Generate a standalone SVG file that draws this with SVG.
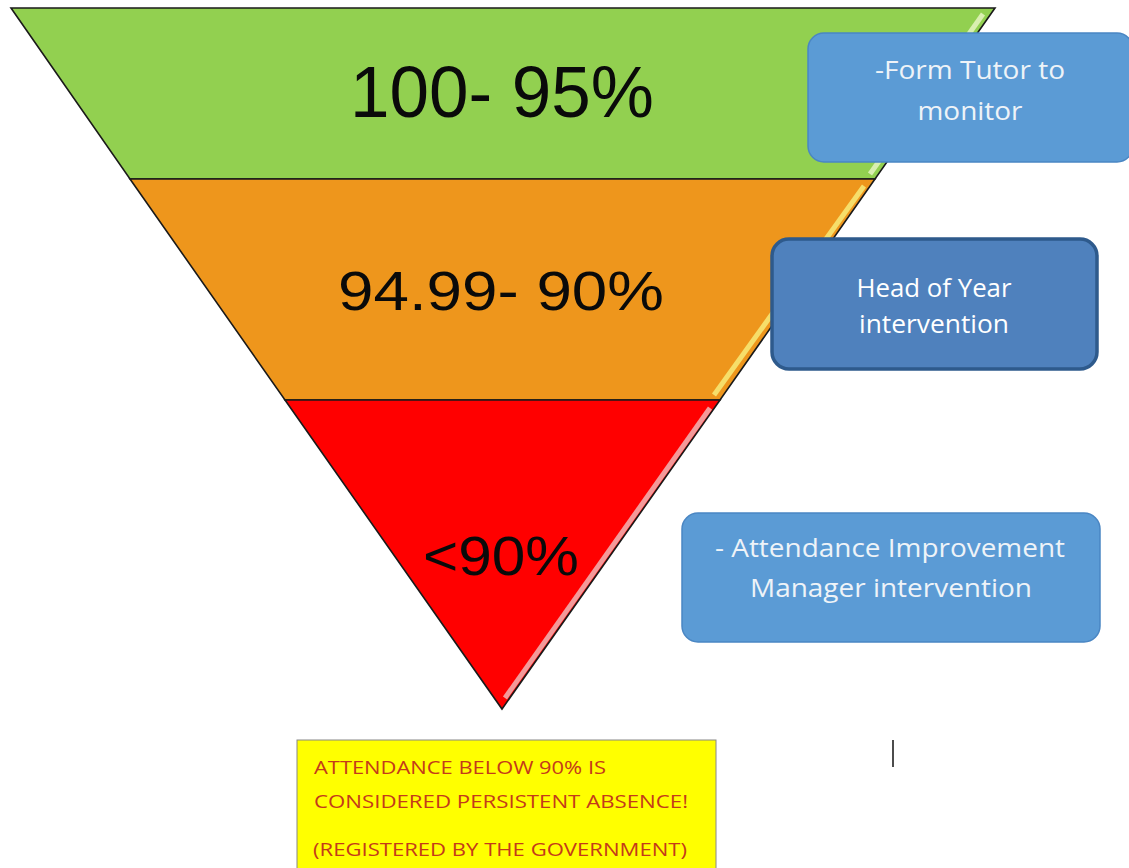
<svg xmlns="http://www.w3.org/2000/svg" width="1129" height="868" viewBox="0 0 1129 868">
<style>
.seg{stroke:#1a1a1a;stroke-width:1.6;stroke-linejoin:miter}
.big{font-family:"Liberation Sans",Arial,sans-serif;fill:#0a0a0a}
.box{fill:#5b9bd5;stroke:#4a86c3;stroke-width:1.5}
.btxt{font-family:"Open Sans","Liberation Sans",sans-serif;fill:#eef3f8;font-size:26px;text-anchor:middle}
.note{font-family:"Open Sans","Liberation Sans",sans-serif;fill:#c43a1a;font-size:19px}
</style>
<rect width="1129" height="868" fill="#ffffff"/>
<g id="level-green">
<polygon class="seg" points="11,8 995,8 875,179 130,179" fill="#92d050"/>
<line x1="983" y1="14" x2="870" y2="174" stroke="#d9efb0" stroke-width="5"/>
<text class="big" x="502" y="117" font-size="72" text-anchor="middle" textLength="304" lengthAdjust="spacingAndGlyphs">100- 95%</text>
</g>
<g id="level-orange">
<polygon class="seg" points="130,179 875,179 720,400 285,400" fill="#ee961c"/>
<line x1="864" y1="186" x2="714" y2="395" stroke="#f6de6a" stroke-width="5"/>
<text class="big" x="501" y="310" font-size="56" text-anchor="middle" textLength="326" lengthAdjust="spacingAndGlyphs">94.99- 90%</text>
</g>
<g id="level-red">
<polygon class="seg" points="285,400 720,400 502,709" fill="#ff0000"/>
<line x1="710" y1="408" x2="505" y2="698" stroke="#f39a9a" stroke-width="5"/>
<text class="big" x="501" y="575" font-size="56" text-anchor="middle" textLength="156" lengthAdjust="spacingAndGlyphs">&lt;90%</text>
</g>
<g id="box-form-tutor">
<rect class="box" x="808" y="33" width="325" height="129" rx="16"/>
<text class="btxt" x="970" y="79" textLength="190" lengthAdjust="spacingAndGlyphs">-Form Tutor to</text>
<text class="btxt" x="970" y="120" textLength="105" lengthAdjust="spacingAndGlyphs">monitor</text>
</g>
<g id="box-head-of-year">
<rect x="772" y="239" width="325" height="130" rx="17" fill="#4f81bd" stroke="#2e5a8c" stroke-width="3.5"/>
<text class="btxt" x="934" y="297" style="fill:#ffffff" textLength="155" lengthAdjust="spacingAndGlyphs">Head of Year</text>
<text class="btxt" x="934" y="333" style="fill:#ffffff" textLength="150" lengthAdjust="spacingAndGlyphs">intervention</text>
</g>
<g id="box-aim">
<rect class="box" x="682" y="513" width="418" height="129" rx="16"/>
<text class="btxt" x="890" y="557" textLength="350" lengthAdjust="spacingAndGlyphs">- Attendance Improvement</text>
<text class="btxt" x="891" y="597" textLength="282" lengthAdjust="spacingAndGlyphs">Manager intervention</text>
</g>
<g id="note-box">
<rect x="297" y="740" width="419" height="140" fill="#ffff00" stroke="#888888" stroke-width="1"/>
<text class="note" x="314" y="774" textLength="292" lengthAdjust="spacingAndGlyphs">ATTENDANCE BELOW 90% IS</text>
<text class="note" x="314" y="808" textLength="374" lengthAdjust="spacingAndGlyphs">CONSIDERED PERSISTENT ABSENCE!</text>
<text class="note" x="313" y="856" textLength="374" lengthAdjust="spacingAndGlyphs">(REGISTERED BY THE GOVERNMENT)</text>
</g>
<g id="connectors">
<line x1="893" y1="740" x2="893" y2="767" stroke="#111111" stroke-width="1.5"/>
</g>
</svg>
